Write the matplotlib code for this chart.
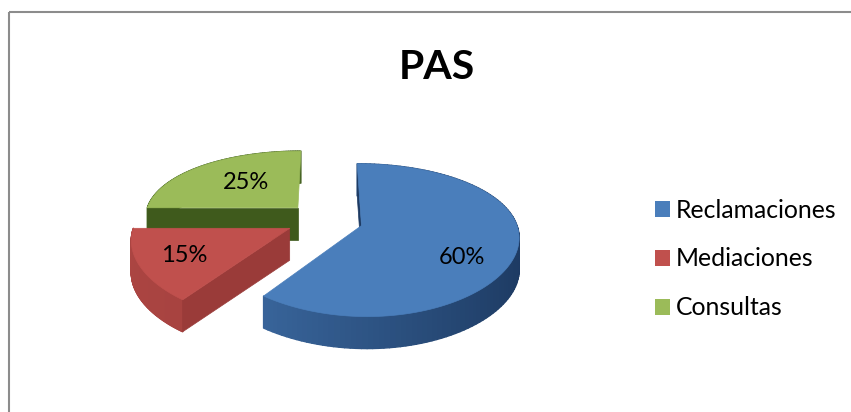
import numpy as np
import matplotlib
matplotlib.use("Agg")
import matplotlib.pyplot as plt
from matplotlib.collections import PolyCollection
from matplotlib.patches import Polygon, Rectangle

# Data
labels = ["Reclamaciones", "Mediaciones", "Consultas"]
values = [60, 15, 25]
colors = ["#4a7ebb", "#c0504d", "#9bbb59"]
wall_light = ["#3f6fa8", "#ab4542", "#4a6a25"]
wall_dark = ["#1d3a62", "#9a3b39", "#3f5a1c"]
label_pos = [(462, 258), (184, 256), (246, 182)]

# Fake 3D pie geometry, in pixels
cx, cy = 324.5, 220
R, A = 154, 71.5
k = 0.188
kx = 0.13
depth = 32
explode = 0.25


def project(u, v, z=0):
    return cx + R * u / (1 + kx * v), cy - A * v / (1 + k * v) + depth * z


plt.rcParams["font.family"] = ["Lato", "DejaVu Sans"]
fig = plt.figure(figsize=(8.51, 4.12), dpi=100)
ax = fig.add_axes([0, 0, 1, 1])
ax.set_xlim(0, 851)
ax.set_ylim(412, 0)
ax.axis("off")

# Chart frame
ax.add_patch(Rectangle((9, 12), 860, 420, fill=False, ec="#8c8c8c", lw=1.5))

ax.text(437, 67, "PAS", fontsize=29.5, fontweight="bold", ha="center", va="center")

# Slices clockwise from 12 o'clock, drawn back to front
fractions = np.array(values) / sum(values)
ends = np.cumsum(fractions) * 2 * np.pi
starts = ends - fractions * 2 * np.pi

for i in [2, 1, 0]:
    mid = (starts[i] + ends[i]) / 2
    ou, ov = explode * np.sin(mid), explode * np.cos(mid)
    th = np.linspace(starts[i], ends[i], 121)
    us = ou + np.sin(th)
    vs = ov + np.cos(th)

    c0 = np.array(matplotlib.colors.to_rgb(wall_light[i]))
    c1 = np.array(matplotlib.colors.to_rgb(wall_dark[i]))

    # outer wall, shaded along the arc
    quads = []
    shades = []
    for j in range(len(th) - 1):
        quads.append([project(us[j], vs[j]), project(us[j + 1], vs[j + 1]),
                      project(us[j + 1], vs[j + 1], 1), project(us[j], vs[j], 1)])
        t = np.clip(-np.sin(th[j]) * 0.5 + 0.5, 0, 1)
        shades.append(c1 + (c0 - c1) * t)
    ax.add_collection(PolyCollection(quads, facecolors=shades, edgecolors=shades, linewidths=1))

    # only the wall on the starting edge faces the viewer
    a = starts[i]
    pts = [project(ou, ov), project(ou + np.sin(a), ov + np.cos(a)),
           project(ou + np.sin(a), ov + np.cos(a), 1), project(ou, ov, 1)]
    ax.add_patch(Polygon(pts, fc=c1, ec=c1, lw=0.5))

    # top face
    top = [project(ou, ov)] + [project(a, b) for a, b in zip(us, vs)]
    ax.add_patch(Polygon(top, fc=colors[i], ec=colors[i], lw=0.5))

for i in range(3):
    ax.text(label_pos[i][0], label_pos[i][1], f"{values[i]}%", fontsize=17,
            ha="center", va="center", color="black")

# Legend
handles = [Rectangle((0, 0), 1, 1, fc=c, ec="none") for c in colors]
ax.legend(handles, labels, loc="center left", bbox_to_anchor=(655, 259),
          bbox_transform=ax.transData, frameon=False, fontsize=17.8,
          handlelength=0.6, handleheight=0.6, handletextpad=0.25, labelspacing=1.05,
          borderpad=0, borderaxespad=0)

fig.savefig("out.png", dpi=100)
